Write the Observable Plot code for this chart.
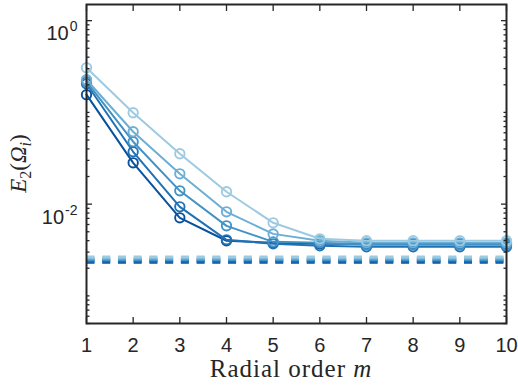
<!DOCTYPE html>
<html><head><meta charset="utf-8">
<script src="https://cdn.jsdelivr.net/npm/d3@7"></script>
<script src="https://cdn.jsdelivr.net/npm/@observablehq/plot@0.6"></script>
<style>body{margin:0;background:#fff;} #chart{width:518px;height:387px;}</style>
</head><body><div id="chart"></div>
<script>
// ---- data ----
const orders = [1, 2, 3, 4, 5, 6, 7, 8, 9, 10];
const seriesNames = ["s1", "s2", "s3", "s4", "s5"];          // dark -> light
const colors = ["#08519c", "#2171b5", "#4292c6", "#6baed6", "#9ecae1"];
const s1 = [0.156, 0.0282, 0.0071, 0.00399, 0.00379, 0.0037, 0.0037, 0.0037, 0.0037, 0.0037];
const s2 = [0.2055, 0.0372, 0.00935, 0.00408, 0.0037, 0.00351, 0.00343, 0.00343, 0.00343, 0.00343];
const s3 = [0.216, 0.0479, 0.01397, 0.0058, 0.00388, 0.00379, 0.0036, 0.0036, 0.0036, 0.0036];
const s4 = [0.227, 0.0615, 0.0214, 0.00825, 0.00474, 0.004, 0.00379, 0.00379, 0.00379, 0.00379];
const s5 = [0.307, 0.0991, 0.0354, 0.01364, 0.00626, 0.00419, 0.004, 0.004, 0.004, 0.004];
const refLevels = [0.00232, 0.0024, 0.00249, 0.00257, 0.00266];  // dashed reference lines
const xTicks = [1, 2, 3, 4, 5, 6, 7, 8, 9, 10];
const yMajorTicks = [1, 0.01];
const yMinorTicks = [0.0005,0.0006,0.0007,0.0008,0.0009,0.001,0.002,0.003,0.004,0.005,0.006,0.007,0.008,0.009,
  0.02,0.03,0.04,0.05,0.06,0.07,0.08,0.09,0.1,0.2,0.3,0.4,0.5,0.6,0.7,0.8,0.9];
const yDomain = [5e-4, 1.5];
const xDomain = [1, 10];

const allSeries = [s1, s2, s3, s4, s5];
const rows = allSeries.flatMap((s, i) => s.map((v, j) => ({order: orders[j], value: v, series: seriesNames[i]})));
const refRows = refLevels.flatMap((v, i) => [
  {order: orders[0], value: v, series: seriesNames[i]},
  {order: orders[orders.length - 1], value: v, series: seriesNames[i]}
]);

const ink = "#262626";
const marks = [];
marks.push(Plot.line(refRows, {x: "order", y: "value", z: "series", stroke: "series",
  strokeWidth: 3, strokeDasharray: "8,7.73", strokeLinecap: "butt"}));
for (const name of seriesNames) {
  const d = rows.filter(r => r.series === name);
  marks.push(Plot.line(d, {x: "order", y: "value", stroke: "series", strokeWidth: 2}));
  marks.push(Plot.dot(d, {x: "order", y: "value", stroke: "series", r: 4.7, strokeWidth: 1.9, fill: "none"}));
}
const axisFont = {fontSize: 20, fill: ink};
marks.push(
  Plot.axisX({ticks: xTicks, anchor: "bottom", tickSize: 0, tickPadding: 14, label: null, ...axisFont, tickFormat: d => String(d)}),
  Plot.axisX({ticks: xTicks, anchor: "bottom", tickSize: -6, stroke: ink, strokeWidth: 1.3, tickFormat: () => "", label: null}),
  Plot.axisX({ticks: xTicks, anchor: "top", tickSize: -6, stroke: ink, strokeWidth: 1.3, tickFormat: () => "", label: null}),
  Plot.axisY({ticks: yMajorTicks, anchor: "left", tickSize: 0, tickPadding: 9, label: null, ...axisFont,
    tickFormat: d => "10^" + Math.round(Math.log10(d))}),
  Plot.axisY({ticks: yMajorTicks, anchor: "left", tickSize: -6, stroke: ink, strokeWidth: 1.3, tickFormat: () => "", label: null}),
  Plot.axisY({ticks: yMinorTicks, anchor: "left", tickSize: -3.5, stroke: ink, strokeWidth: 1.3, tickFormat: () => "", label: null}),
  Plot.axisY({ticks: yMajorTicks, anchor: "right", tickSize: -6, stroke: ink, strokeWidth: 1.3, tickFormat: () => "", label: null}),
  Plot.axisY({ticks: yMinorTicks, anchor: "right", tickSize: -3.5, stroke: ink, strokeWidth: 1.3, tickFormat: () => "", label: null}),
  Plot.frame({stroke: ink, strokeWidth: 2})
);

const plot = Plot.plot({
  width: 518, height: 387,
  marginLeft: 86, marginRight: 12, marginTop: 4, marginBottom: 64,
  style: {fontFamily: "'Liberation Sans', Arial, sans-serif", background: "#fff", overflow: "visible"},
  x: {domain: xDomain},
  y: {type: "log", domain: yDomain},
  color: {domain: seriesNames, range: colors},
  marks
});
document.getElementById("chart").appendChild(plot);

const svg = d3.select(plot);
// superscript exponents on y tick labels
svg.selectAll('g[aria-label="y-axis tick label"] text').each(function() {
  const t = d3.select(this);
  const s = t.text();
  if (!s || s.indexOf("^") < 0) return;
  const exp = s.split("^")[1];
  t.text(null);
  t.attr("dy", null).attr("transform", (t.attr("transform") || "") + " translate(0,13)");
  t.append("tspan").text("10");
  t.append("tspan").attr("dx", 1).attr("dy", -9).attr("font-size", 14).text(exp);
});

// axis titles (LaTeX-like)
const serif = "'Liberation Serif', 'Times New Roman', serif";
const xl = svg.append("text").attr("x", 291).attr("y", 377).attr("text-anchor", "middle")
  .attr("font-family", serif).attr("font-size", 25).attr("letter-spacing", 1).attr("fill", ink);
xl.append("tspan").text("Radial order ");
xl.append("tspan").attr("font-style", "italic").text("m");

const yl = svg.append("text").attr("transform", "translate(26,163.5) rotate(-90)").attr("text-anchor", "middle")
  .attr("font-family", serif).attr("font-size", 23).attr("fill", ink);
yl.append("tspan").attr("font-style", "italic").text("E");
yl.append("tspan").attr("font-size", 16).attr("dy", 5).text("2");
yl.append("tspan").attr("dy", -5).text("(");
yl.append("tspan").attr("font-style", "italic").text("Ω");
yl.append("tspan").attr("font-style", "italic").attr("font-size", 16).attr("dy", 5).text("i");
yl.append("tspan").attr("dy", -5).text(")");
</script>
</body></html>
